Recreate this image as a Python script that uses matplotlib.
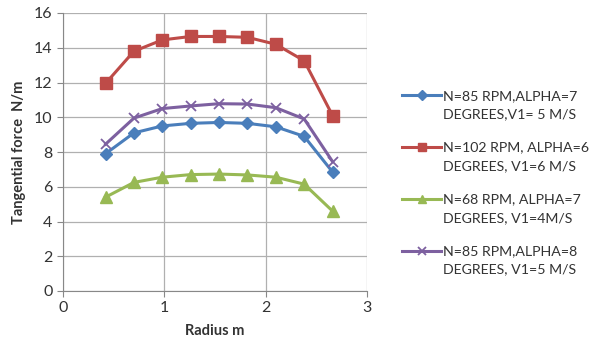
import matplotlib.pyplot as plt
from matplotlib.legend_handler import HandlerLine2D
import numpy as np

"""
Data read from the chart
"""
radius = [0.42, 0.70, 0.98, 1.26, 1.54, 1.82, 2.10, 2.38, 2.66]
force_n85_a7 = [7.9, 9.1, 9.5, 9.65, 9.7, 9.65, 9.45, 8.9, 6.85]
force_n102_a6 = [11.95, 13.8, 14.45, 14.65, 14.65, 14.6, 14.2, 13.25, 10.1]
force_n68_a7 = [5.4, 6.25, 6.55, 6.7, 6.73, 6.68, 6.55, 6.15, 4.6]
force_n85_a8 = [8.45, 9.95, 10.5, 10.65, 10.78, 10.76, 10.55, 9.9, 7.45]

labels = ['N=85 RPM,ALPHA=7\nDEGREES,V1= 5 M/S',
          'N=102 RPM, ALPHA=6\nDEGREES, V1=6 M/S',
          'N=68 RPM, ALPHA=7\nDEGREES, V1=4M/S',
          'N=85 RPM,ALPHA=8\nDEGREES, V1=5 M/S']

"""
Legend handle next to the first text line (like Excel)
"""
class UpHandler(HandlerLine2D):
    def create_artists(self, legend, orig_handle, xdescent, ydescent, width, height, fontsize, trans):
        arts = super().create_artists(legend, orig_handle, xdescent, ydescent, width, height, fontsize, trans)
        for a in arts:
            a.set_ydata(np.asarray(a.get_ydata()) + 0.68 * fontsize)
        return arts

plt.rcParams['font.family'] = ['Lato', 'DejaVu Sans']
fs = 11

fig = plt.figure(figsize=(5.95, 3.49), dpi=100)
ax1 = fig.add_axes([63/595, 1-291/349, 304/595, 278/349])

ax1.plot(radius, force_n85_a7, color='#4A7EBB', linewidth=2.2, marker='D', markersize=6.5, label=labels[0])
ax1.plot(radius, force_n102_a6, color='#BE4B48', linewidth=2.2, marker='s', markersize=8.5, label=labels[1])
ax1.plot(radius, force_n68_a7, color='#98B954', linewidth=2.2, marker='^', markersize=8, label=labels[2])
ax1.plot(radius, force_n85_a8, color='#7D60A0', linewidth=2.2, marker='x', markersize=7, markeredgewidth=1.3, label=labels[3])

ax1.set_xlim(0, 3)
ax1.set_ylim(0, 16)
ax1.set_xticks([0, 1, 2, 3])
ax1.set_yticks(np.arange(0, 17, 2))
ax1.grid(color='#b0b0b0', linewidth=0.9)
ax1.set_axisbelow(True)
for s in ['top', 'right']:
    ax1.spines[s].set_visible(False)
for s in ['left', 'bottom']:
    ax1.spines[s].set_color('#888888')
ax1.tick_params(axis='both', labelsize=fs + 0.5, colors='#333333', length=4, color='#888888')
ax1.set_xlabel('Radius m', fontsize=fs - 0.5, fontweight='bold', color='#333333', labelpad=6)
ax1.set_ylabel('Tangential force  N/m', fontsize=fs - 0.5, fontweight='bold', color='#333333', labelpad=6)

leg = ax1.legend(loc='upper left', bbox_to_anchor=(396/595, 1-84/349), bbox_transform=fig.transFigure,
                 frameon=False, fontsize=10.2, handlelength=2.8, handletextpad=0.15, labelspacing=1.5,
                 labelcolor='#333333', borderaxespad=0, markerscale=0.75,
                 handler_map={plt.Line2D: UpHandler()})
for t in leg.get_texts():
    t.set_linespacing(1.65)

fig.savefig('out.png', dpi=100)
